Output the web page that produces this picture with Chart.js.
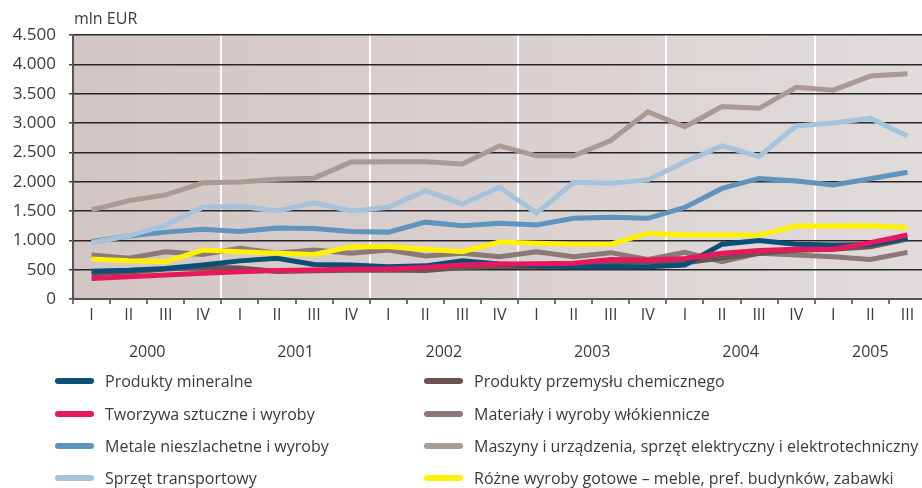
<!DOCTYPE html>
<html>
<head>
<meta charset="utf-8">
<script src="https://cdn.jsdelivr.net/npm/chart.js@4"></script>
<style>
  html, body { margin: 0; padding: 0; background: #fff; overflow: hidden; }
  #wrap { position: relative; width: 922px; height: 488px; overflow: hidden; font-family: "Open Sans", sans-serif; color: #3a3a3a; }
  #chart { position: absolute; left: 0; top: 0; }
  #unit { position: absolute; left: 74px; top: 7px; font-size: 16px; }
  .leg { position: absolute; font-size: 16px; line-height: 20px; white-space: nowrap; }
  .leg span.sw { position: absolute; left: -50px; top: 7px; width: 39px; height: 6px; border-radius: 3px; }
</style>
</head>
<body>
<div id="wrap">
  <canvas id="chart" width="926" height="488"></canvas>
  <div id="unit">mln EUR</div>
</div>
<script>
const quarters = ["I", "II", "III", "IV", "I", "II", "III", "IV", "I", "II", "III", "IV",
  "I", "II", "III", "IV", "I", "II", "III", "IV", "I", "II", "III"];
const years = ["2000", "2001", "2002", "2003", "2004", "2005"];
const yTicks = [0, 500, 1000, 1500, 2000, 2500, 3000, 3500, 4000, 4500];

const mineralne = [475, 490, 520, 580, 650, 695, 590, 580, 550, 565, 650, 595, 565, 550, 550, 550, 580, 935, 995, 935, 920, 930, 1040];
const chemiczne = [430, 460, 510, 540, 530, 470, 480, 490, 495, 485, 535, 560, 550, 580, 610, 640, 620, 700, 780, 830, 850, 890, 1020];
const tworzywa = [350, 380, 410, 440, 465, 485, 495, 510, 510, 535, 580, 595, 600, 610, 675, 665, 690, 780, 825, 850, 850, 960, 1090];
const materialy = [750, 695, 805, 760, 865, 780, 835, 780, 835, 735, 780, 720, 805, 720, 790, 675, 795, 635, 780, 750, 720, 675, 795];
const metale = [980, 1075, 1140, 1190, 1150, 1210, 1200, 1150, 1140, 1310, 1250, 1290, 1260, 1375, 1395, 1375, 1560, 1885, 2055, 2010, 1945, 2050, 2160];
const maszyny = [1520, 1675, 1775, 1980, 1995, 2040, 2060, 2335, 2340, 2340, 2300, 2610, 2440, 2440, 2700, 3190, 2935, 3280, 3250, 3610, 3560, 3800, 3840];
const transport = [960, 1075, 1260, 1565, 1580, 1500, 1640, 1500, 1565, 1845, 1620, 1905, 1465, 1990, 1975, 2030, 2340, 2610, 2430, 2950, 3000, 3080, 2780];
const rozne = [680, 650, 635, 835, 805, 780, 760, 890, 890, 850, 805, 970, 950, 935, 935, 1120, 1090, 1090, 1090, 1245, 1245, 1250, 1220];

// legend order: left column then right column
const series = [
  { label: "Produkty mineralne", data: mineralne, color: "#0b4f78", col: 0, row: 0, z: 2 },
  { label: "Tworzywa sztuczne i wyroby", data: tworzywa, color: "#e8185c", col: 0, row: 1, z: 1 },
  { label: "Metale nieszlachetne i wyroby", data: metale, color: "#5f94bc", col: 0, row: 2, z: 6 },
  { label: "Sprzęt transportowy", data: transport, color: "#a6c3dc", col: 0, row: 3, z: 5 },
  { label: "Produkty przemysłu chemicznego", data: chemiczne, color: "#6a5451", col: 1, row: 0, z: 3 },
  { label: "Materiały i wyroby włókiennicze", data: materialy, color: "#8b7977", col: 1, row: 1, z: 4 },
  { label: "Maszyny i urządzenia, sprzęt elektryczny i elektrotechniczny", data: maszyny, color: "#a99a96", col: 1, row: 2, z: 7 },
  { label: "Różne wyroby gotowe – meble, pref. budynków, zabawki", data: rozne, color: "#fff200", col: 1, row: 3, z: 0 }
];

const wrap = document.getElementById("wrap");
const rowY = [371, 404, 436, 468];
const colX = [105, 474];
series.forEach(s => {
  const d = document.createElement("div");
  d.className = "leg";
  d.style.left = colX[s.col] + "px";
  d.style.top = rowY[s.row] + "px";
  d.innerHTML = '<span class="sw" style="background:' + s.color + '"></span>' + s.label;
  wrap.appendChild(d);
});

const plotBg = {
  id: "plotBg",
  beforeDraw(chart) {
    const { ctx, chartArea: a } = chart;
    const g = ctx.createLinearGradient(a.left, 0, a.right, 0);
    g.addColorStop(0, "#d2c6c4");
    g.addColorStop(1, "#e0dcdb");
    ctx.save();
    ctx.fillStyle = g;
    ctx.fillRect(a.left, a.top, a.right - a.left, a.bottom - a.top);
    ctx.restore();
  }
};

const yearLabels = {
  id: "yearLabels",
  afterDraw(chart) {
    const { ctx } = chart;
    const x = chart.scales.x;
    ctx.save();
    ctx.font = '16px "Open Sans"';
    ctx.fillStyle = "#3a3a3a";
    ctx.textAlign = "center";
    ctx.textBaseline = "middle";
    years.forEach((yr, k) => {
      const first = k * 4;
      const last = Math.min(first + 3, quarters.length - 1);
      const cx = (x.getPixelForTick(first) + x.getPixelForTick(last)) / 2;
      ctx.fillText(yr, cx, 352);
    });
    ctx.restore();
  }
};

new Chart(document.getElementById("chart"), {
  type: "line",
  data: {
    labels: quarters,
    datasets: series.map(s => ({
      label: s.label,
      data: s.data,
      borderColor: s.color,
      backgroundColor: s.color,
      borderWidth: 5,
      pointRadius: 0,
      tension: 0,
      fill: false,
      order: s.z
    }))
  },
  options: {
    responsive: false,
    animation: false,
    layout: { padding: { top: 35, right: 0, bottom: 149, left: 0 } },
    plugins: { legend: { display: false }, tooltip: { enabled: false } },
    scales: {
      x: {
        offset: true,
        afterFit(scale) { scale.height = 40; },
        grid: {
          offset: true,
          color: ctx => (ctx.index > 0 && ctx.index % 4 === 0 ? "#ffffff" : "rgba(0,0,0,0)"),
          lineWidth: 2,
          tickColor: "#444",
          tickLength: 5,
          tickWidth: 1.5
        },
        border: { color: "#555", width: 2 },
        ticks: { color: "#3a3a3a", font: { family: "Open Sans", size: 16 }, padding: 2, maxRotation: 0, autoSkip: false }
      },
      y: {
        min: 0,
        max: 4500,
        afterFit(scale) { scale.width = 73; },
        afterBuildTicks(scale) { scale.ticks = yTicks.map(v => ({ value: v })); },
        grid: { color: "#2a2626", lineWidth: 1.5, tickColor: "#444", tickLength: 4 },
        border: { color: "#555", width: 2 },
        ticks: {
          color: "#3a3a3a",
          font: { family: "Open Sans", size: 17 },
          padding: 13,
          callback: v => v.toLocaleString("de-DE")
        }
      }
    }
  },
  plugins: [plotBg, yearLabels]
});
</script>
</body>
</html>
